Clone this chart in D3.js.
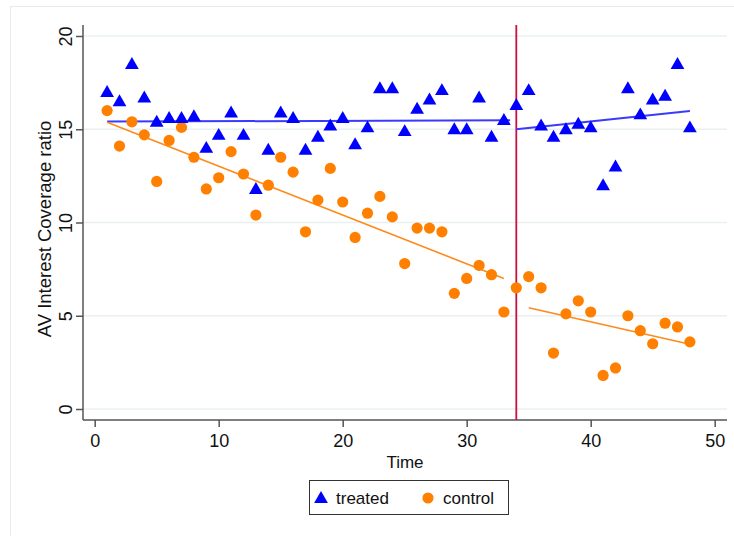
<!DOCTYPE html>
<html>
<head>
<meta charset="utf-8">
<script src="https://cdn.jsdelivr.net/npm/d3@7"></script>
<style>
  body { margin: 0; background: #fff; }
  text { font-family: "Liberation Sans", Arial, sans-serif; fill: #111; }
</style>
</head>
<body>
<svg id="chart" width="734" height="536"></svg>
<script>
// time periods 1..48
var time = [1,2,3,4,5,6,7,8,9,10,11,12,13,14,15,16,17,18,19,20,21,22,23,24,
            25,26,27,28,29,30,31,32,33,34,35,36,37,38,39,40,41,42,43,44,45,46,47,48];

var treated = [17.0,16.5,18.5,16.7,15.4,15.6,15.6,15.7,14.0,14.7,15.9,14.7,11.8,13.9,15.9,15.6,
               13.9,14.6,15.2,15.6,14.2,15.1,17.2,17.2,14.9,16.1,16.6,17.1,15.0,15.0,16.7,14.6,
               15.5,16.3,17.1,15.2,14.6,15.0,15.3,15.1,12.0,13.0,17.2,15.8,16.6,16.8,18.5,15.1];

var control = [16.0,14.1,15.4,14.7,12.2,14.4,15.1,13.5,11.8,12.4,13.8,12.6,10.4,12.0,13.5,12.7,
               9.5,11.2,12.9,11.1,9.2,10.5,11.4,10.3,7.8,9.7,9.7,9.5,6.2,7.0,7.7,7.2,
               5.2,6.5,7.1,6.5,3.0,5.1,5.8,5.2,1.8,2.2,5.0,4.2,3.5,4.6,4.4,3.6];

// fitted lines (pre / post): [time, fitted value] at each end
var treatedFitPre  = [[1, 15.41], [33.5, 15.48]];
var treatedFitPost = [[34, 15.0], [48, 15.98]];
var controlFitPre  = [[1, 15.37], [33, 7.0]];
var controlFitPost = [[35, 5.43], [48, 3.47]];
var treatTime = 34;

var xTicks = [0, 10, 20, 30, 40, 50];
var yTicks = [0, 5, 10, 15, 20];

var svg = d3.select("#chart");

// faint outer frame of the graph region
svg.append("rect")
  .attr("x", 10.5).attr("y", 6.5)
  .attr("width", 740).attr("height", 540)
  .attr("fill", "none").attr("stroke", "#e4ebee").attr("stroke-width", 1);

var x = d3.scaleLinear().domain([0, 50]).range([94.7, 714.7]);
var y = d3.scaleLinear().domain([0, 20]).range([409, 36]);

var pLeft = 83, pRight = 727, pTop = 25, pBottom = 420;

// gridlines
svg.append("g").selectAll("line")
  .data(yTicks).enter().append("line")
  .attr("x1", pLeft).attr("x2", pRight)
  .attr("y1", function(d){ return y(d); })
  .attr("y2", function(d){ return y(d); })
  .attr("stroke", "#eaf0f2").attr("stroke-width", 1.5);

// y axis, labels turned like stata does
var yAxis = svg.append("g")
  .attr("transform", "translate(" + pLeft + ",0)")
  .call(d3.axisLeft(y).tickValues(yTicks).tickSize(7).tickFormat(d3.format("d")));
yAxis.select(".domain").attr("d", "M0," + pTop + "V" + pBottom);
yAxis.selectAll(".tick text")
  .attr("x", 0).attr("y", 0).attr("dy", 0)
  .attr("text-anchor", "middle")
  .attr("transform", "translate(-11.5,0) rotate(-90)");

// x axis
var xAxis = svg.append("g")
  .attr("transform", "translate(0," + pBottom + ")")
  .call(d3.axisBottom(x).tickValues(xTicks).tickSize(7).tickPadding(7).tickFormat(d3.format("d")));
xAxis.select(".domain").attr("d", "M" + pLeft + ",0H" + pRight);

svg.selectAll(".domain").attr("stroke", "#555").attr("stroke-width", 1.5);
svg.selectAll(".tick line").attr("stroke", "#555").attr("stroke-width", 1.5);
svg.selectAll(".tick text").attr("font-size", 18).attr("fill", "#111");

// axis titles
svg.append("text")
  .attr("x", (pLeft + pRight) / 2).attr("y", 468)
  .attr("text-anchor", "middle").attr("font-size", 17)
  .text("Time");
svg.append("text")
  .attr("transform", "translate(51,229) rotate(-90)")
  .attr("text-anchor", "middle").attr("font-size", 18.5)
  .text("AV Interest Coverage ratio");

// treatment line
svg.append("line")
  .attr("x1", x(treatTime)).attr("x2", x(treatTime))
  .attr("y1", pTop).attr("y2", pBottom)
  .attr("stroke", "#cc1040").attr("stroke-width", 1.8);

var line = d3.line()
  .x(function(d){ return x(d[0]); })
  .y(function(d){ return y(d[1]); });

[treatedFitPre, treatedFitPost].forEach(function(f){
  svg.append("path").attr("d", line(f))
    .attr("fill", "none").attr("stroke", "#3a3aff").attr("stroke-width", 2);
});
[controlFitPre, controlFitPost].forEach(function(f){
  svg.append("path").attr("d", line(f))
    .attr("fill", "none").attr("stroke", "#ff8a1c").attr("stroke-width", 1.6);
});

var tri = d3.symbol().type(d3.symbolTriangle).size(82);

// control markers
svg.append("g").selectAll("circle")
  .data(time).enter().append("circle")
  .attr("cx", function(d){ return x(d); })
  .attr("cy", function(d, i){ return y(control[i]); })
  .attr("r", 5.6)
  .attr("fill", "#ff8000");

// treated markers
svg.append("g").selectAll("path")
  .data(time).enter().append("path")
  .attr("d", tri)
  .attr("transform", function(d, i){ return "translate(" + x(d) + "," + (y(treated[i]) + 1) + ")"; })
  .attr("fill", "#0000ff");

// legend
var lg = svg.append("g");
lg.append("rect")
  .attr("x", 309.5).attr("y", 480.5).attr("width", 199).attr("height", 34)
  .attr("fill", "#fff").attr("stroke", "#333").attr("stroke-width", 1);
lg.append("path").attr("d", tri)
  .attr("transform", "translate(321,499)").attr("fill", "#0000ff");
lg.append("text").attr("x", 336).attr("y", 504).attr("font-size", 17).text("treated");
lg.append("circle").attr("cx", 428).attr("cy", 498).attr("r", 5.6).attr("fill", "#ff8000");
lg.append("text").attr("x", 443).attr("y", 504).attr("font-size", 17).text("control");
</script>
</body>
</html>
